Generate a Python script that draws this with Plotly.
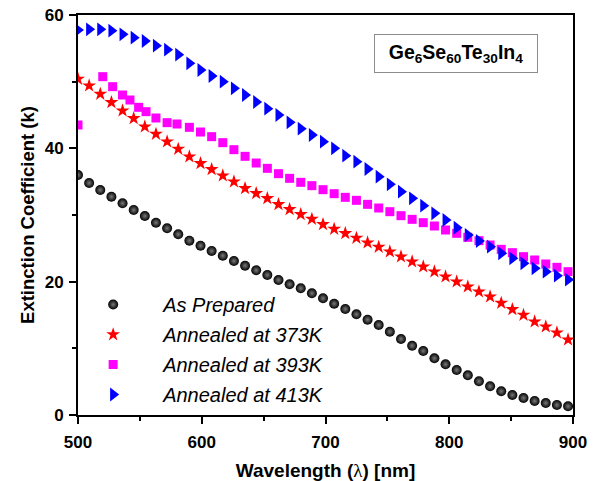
import plotly.graph_objects as go

wavelength = [500, 509, 518, 527, 536, 545, 554, 563, 572, 581, 590, 599, 608, 617, 626,
              635, 644, 653, 662, 671, 680, 689, 698, 707, 716, 725, 734, 743, 752, 761,
              770, 779, 788, 797, 806, 815, 824, 833, 842, 851, 860, 869, 878, 887, 896]

as_prepared = [36.0, 34.8, 33.75, 32.75, 31.75, 30.75, 29.85, 28.85, 28.0, 27.1,
               26.15, 25.4, 24.6, 23.9, 23.1, 22.4, 21.7, 21.0, 20.25, 19.6,
               19.0, 18.25, 17.5, 16.7, 15.9, 15.1, 14.3, 13.5, 12.5, 11.4,
               10.4, 9.6, 8.5, 7.6, 6.75, 5.95, 5.05, 4.3, 3.55, 3.0,
               2.55, 2.1, 1.8, 1.5, 1.3]

annealed_373 = [50.4, 49.4, 48.15, 46.9, 45.65, 44.5, 43.25, 42.15, 41.0, 39.9,
                38.75, 37.75, 36.85, 35.9, 35.0, 34.0, 33.25, 32.5, 31.6, 30.85,
                30.1, 29.4, 28.6, 27.9, 27.25, 26.55, 25.85, 25.2, 24.5, 23.75,
                23.0, 22.25, 21.5, 20.75, 20.0, 19.25, 18.5, 17.75, 16.8, 15.85,
                15.0, 14.0, 13.25, 12.35, 11.3]

wavelength_393 = [500, 520, 528, 536, 542, 549, 555, 563, 572, 580,
                  590, 599, 608, 617, 626, 635, 644, 653, 662, 671,
                  680, 689, 698, 707, 716, 725, 734, 743, 752, 761,
                  770, 779, 788, 797, 806, 815, 824, 833, 842, 851,
                  860, 869, 878, 887, 896]
annealed_393 = [43.5, 50.75, 49.25, 48.0, 47.25, 46.15, 45.5, 44.55, 43.85, 43.65,
                43.15, 42.45, 41.75, 40.85, 39.8, 38.8, 37.8, 37.0, 36.2, 35.5,
                34.9, 34.4, 33.8, 33.2, 32.65, 32.2, 31.6, 31.05, 30.5, 29.9,
                29.35, 28.85, 28.35, 27.75, 27.25, 26.65, 26.15, 25.5, 24.85, 24.35,
                23.75, 23.25, 22.65, 22.15, 21.5]

annealed_413 = [57.75, 57.85, 57.85, 57.65, 57.1, 56.6, 56.1, 55.4, 54.8, 54.05,
                52.75, 51.75, 50.85, 50.0, 49.0, 48.0, 46.95, 45.95, 45.0, 43.9,
                42.95, 42.0, 41.0, 40.0, 38.9, 38.0, 36.9, 35.75, 34.6, 33.5,
                32.5, 31.4, 30.25, 29.25, 28.1, 27.0, 26.1, 25.25, 24.25, 23.5,
                22.75, 22.0, 21.5, 20.9, 20.3]

x_ticks = [500, 600, 700, 800, 900]
y_ticks = [0, 20, 40, 60]

FONT = "Liberation Sans, Arial, sans-serif"

fig = go.Figure()
fig.add_trace(go.Scatter(
    x=wavelength, y=as_prepared, mode="markers", name="As Prepared", legendgroup="a",
    marker=dict(symbol="circle", size=10, color="#000000",
                gradient=dict(type="radial", color="#7a7a7a"),
                line=dict(width=0))))
fig.add_trace(go.Scatter(
    x=wavelength, y=annealed_373, mode="markers", name="Annealed at 373K", legendgroup="b",
    marker=dict(symbol="star", size=10.5, color="#ff0000", line=dict(width=0))))
fig.add_trace(go.Scatter(
    x=wavelength_393, y=annealed_393, mode="markers", name="Annealed at 393K", legendgroup="c",
    marker=dict(symbol="square", size=9, color="#ff00ff", line=dict(width=0))))
fig.add_trace(go.Scatter(
    x=wavelength, y=annealed_413, mode="markers", name="Annealed at 413K", legendgroup="d",
    marker=dict(symbol="triangle-right", size=12, color="#0000ff", line=dict(width=0))))

axis_common = dict(
    showline=True, linecolor="black", linewidth=2, mirror=True,
    ticks="outside", ticklen=7, tickwidth=1.5, tickcolor="black",
    showgrid=False, zeroline=False, automargin=False,
    tickfont=dict(family=FONT, size=17, color="black", weight="bold"),
)

fig.update_xaxes(
    range=[500, 900], tickvals=x_ticks, ticklabelstandoff=4,
    minor=dict(ticks="outside", ticklen=4, tickwidth=1.5, tickcolor="black", dtick=50),
    title=dict(text='Wavelength (<span style="font-family:Liberation Serif;font-weight:normal">λ</span>) [nm]',
               font=dict(family=FONT, size=19, color="black", weight="bold"), standoff=14),
    **axis_common)
fig.update_yaxes(
    range=[0, 60], tickvals=y_ticks, ticklabelstandoff=2,
    minor=dict(ticks="outside", ticklen=4, tickwidth=1.5, tickcolor="black", dtick=10),
    title=dict(text="Extinction Coefficient (k)",
               font=dict(family=FONT, size=18.5, color="black", weight="bold"), standoff=5),
    **axis_common)

fig.add_annotation(
    xref="paper", yref="paper", x=0.7636, y=0.904, xanchor="center", yanchor="middle",
    text="Ge<sub>6</sub>Se<sub>60</sub>Te<sub>30</sub>In<sub>4</sub>", showarrow=False,
    font=dict(family=FONT, size=19.5, color="black", weight="bold"),
    bordercolor="#8c8c8c", borderwidth=1, borderpad=4, bgcolor="white",
    width=154, height=29)

fig.update_layout(
    width=593, height=481,
    margin=dict(l=78, r=20, t=15, b=66),
    paper_bgcolor="white", plot_bgcolor="white",
    font=dict(family=FONT, color="black"),
    showlegend=True,
    legend=dict(
        x=-0.03, y=0.325, xanchor="left", yanchor="top",
        bgcolor="rgba(0,0,0,0)", borderwidth=0,
        font=dict(family=FONT, size=20, color="black", style="italic"),
        itemwidth=90, tracegroupgap=1, traceorder="grouped"),
)

fig.write_html("out.html")
